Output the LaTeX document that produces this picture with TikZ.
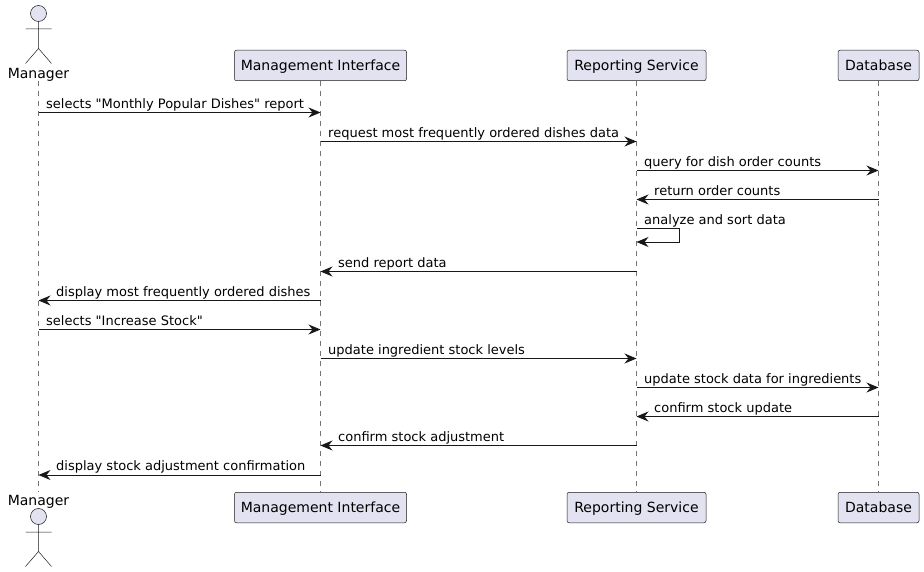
\documentclass[tikz,border=0pt]{standalone}
\usepackage{fontspec}
\setmainfont{DejaVu Sans}[Ligatures=TeXOff]
\usetikzlibrary{positioning,arrows.meta,calc}
\definecolor{partfill}{HTML}{E2E2F0}
\definecolor{partline}{HTML}{181818}
\begin{document}
\begin{tikzpicture}[
  x=1pt,y=-1pt,
  part/.style={rectangle,draw=partline,line width=0.5pt,rounded corners=2pt,fill=partfill,minimum height=30.5pt,inner sep=0pt,text height=11pt,text depth=1pt,font=\fontsize{14}{16}\selectfont,text=black},
  actlabel/.style={inner sep=0pt,font=\fontsize{14}{16}\selectfont,text=black,anchor=base},
  actbody/.style={draw=partline,line width=0.5pt},
  life/.style={draw=partline!60,line width=0.5pt,dash pattern=on 5pt off 5pt},
  msg/.style={draw=partline,line width=0.8pt,-{Stealth[length=12pt,width=10pt,inset=4pt]}},
  lbl/.style={inner sep=0pt,anchor=base west,font=\fontsize{13}{15}\selectfont,text=black},
  pics/stickman/.style={code={
    \draw[actbody,fill=partfill] (0,0) circle (8);
    \draw[actbody] (0,8) -- (0,35) (-13,15.5) -- (13,15.5) (-13,50) -- (0,35) -- (13,50);
  }}
]
\useasboundingbox (0,0) rectangle (924,572);

% heads
\pic at (38.5,13.5) {stickman};
\node[actlabel] (mgrtop) at (38.5,78.6) {Manager};
\node[part,minimum width=172pt] (mitop) at (320.5,65.5) {Management Interface};
\node[part,minimum width=139pt] (rstop) at (636.5,65.5) {Reporting Service};
\node[part,minimum width=81pt] (dbtop) at (878.5,65.5) {Database};

% feet
\pic at (38.5,516.5) {stickman};
\node[actlabel] (mgrbot) at (38.5,505.6) {Manager};
\node[part,minimum width=172pt] (mibot) at (320.5,507.5) {Management Interface};
\node[part,minimum width=139pt] (rsbot) at (636.5,507.5) {Reporting Service};
\node[part,minimum width=81pt] (dbbot) at (878.5,507.5) {Database};

% lifelines
\coordinate (mgrstart) at (38.5,81);
\coordinate (mgrend) at (38.5,492);
\draw[life] (mgrstart) -- (mgrend);
\draw[life] (mitop) -- (mibot);
\draw[life] (rstop) -- (rsbot);
\draw[life] (dbtop) -- (dbbot);

% rows
\foreach \rowname/\rowy in {r1/112.5,r2/141.5,r3/170.5,r4/199.5,r5/228.5,r6/271.5,r7/300.5,r8/329.5,r9/358.5,r10/387.5,r11/416.5,r12/445.5,r13/475}
  \coordinate (\rowname) at (0,\rowy);

% first exchange
\draw[msg] (mgrstart |- r1) -- (mitop |- r1);
\node[lbl] (t1) at ($(mgrstart |- r1)+(7.5,-4.3)$) {selects "Monthly Popular Dishes" report};
\draw[msg] (mitop |- r2) -- (rstop |- r2);
\node[lbl] (t2) at ($(mitop |- r2)+(7.5,-4.3)$) {request most frequently ordered dishes data};
\draw[msg] (rstop |- r3) -- (dbtop |- r3);
\node[lbl] (t3) at ($(rstop |- r3)+(7.5,-4.3)$) {query for dish order counts};
\draw[msg] (dbtop |- r4) -- (rstop |- r4);
\node[lbl] (t4) at ($(rstop |- r4)+(17.5,-4.3)$) {return order counts};
\draw[msg] (rstop |- r5) -- ++(43,0) -- ++(0,13.5) -- ++(-43,0);
\node[lbl] (t5) at ($(rstop |- r5)+(7.5,-4.3)$) {analyze and sort data};
\draw[msg] (rstop |- r6) -- (mitop |- r6);
\node[lbl] (t6) at ($(mitop |- r6)+(17.5,-4.3)$) {send report data};
\draw[msg] (mitop |- r7) -- (mgrstart |- r7);
\node[lbl] (t7) at ($(mgrstart |- r7)+(17.5,-4.3)$) {display most frequently ordered dishes};

% second exchange
\draw[msg] (mgrstart |- r8) -- (mitop |- r8);
\node[lbl] (t8) at ($(mgrstart |- r8)+(7.5,-4.3)$) {selects "Increase Stock"};
\draw[msg] (mitop |- r9) -- (rstop |- r9);
\node[lbl] (t9) at ($(mitop |- r9)+(7.5,-4.3)$) {update ingredient stock levels};
\draw[msg] (rstop |- r10) -- (dbtop |- r10);
\node[lbl] (t10) at ($(rstop |- r10)+(7.5,-4.3)$) {update stock data for ingredients};
\draw[msg] (dbtop |- r11) -- (rstop |- r11);
\node[lbl] (t11) at ($(rstop |- r11)+(17.5,-4.3)$) {confirm stock update};
\draw[msg] (rstop |- r12) -- (mitop |- r12);
\node[lbl] (t12) at ($(mitop |- r12)+(17.5,-4.3)$) {confirm stock adjustment};
\draw[msg] (mitop |- r13) -- (mgrstart |- r13);
\node[lbl] (t13) at ($(mgrstart |- r13)+(17.5,-4.3)$) {display stock adjustment confirmation};
\end{tikzpicture}
\end{document}
